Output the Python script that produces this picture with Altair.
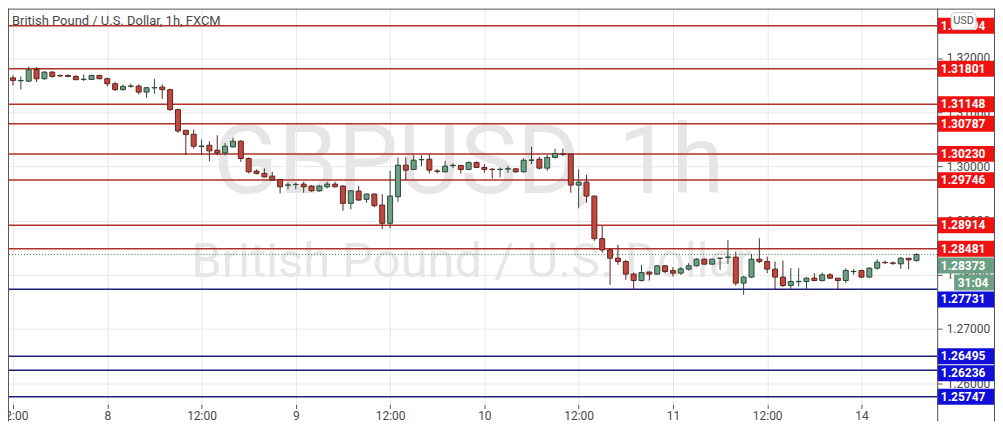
import altair as alt
import pandas as pd

# ---------------- data ----------------
opens = [1.31632, 1.31580, 1.31573, 1.31788, 1.31617, 1.31739, 1.31678, 1.31678, 1.31660, 1.31604,
         1.31604, 1.31678, 1.31617, 1.31525, 1.31415, 1.31477, 1.31481, 1.31371, 1.31448, 1.31463,
         1.31415, 1.31047, 1.30666, 1.30592, 1.30366, 1.30390, 1.30298, 1.30248, 1.30359, 1.30464,
         1.30145, 1.29912, 1.29869, 1.29820, 1.29759, 1.29650, 1.29663, 1.29672, 1.29636, 1.29549,
         1.29623, 1.29672, 1.29636, 1.29317, 1.29544, 1.29391, 1.29488, 1.29286, 1.28949, 1.29439,
         1.30022, 1.29943, 1.30121, 1.30132, 1.29915, 1.29899, 1.30013, 1.30016, 1.29943, 1.30072,
         1.29980, 1.29947, 1.29941, 1.29950, 1.29954, 1.29899, 1.30110, 1.30132, 1.29967, 1.30164,
         1.30228, 1.30224, 1.29654, 1.29709, 1.29452, 1.28666, 1.28458, 1.28305, 1.28243, 1.28011,
         1.27893, 1.28048, 1.28011, 1.28164, 1.28077, 1.28029, 1.28103, 1.28164, 1.28287, 1.28195,
         1.28302, 1.28320, 1.28324, 1.27845, 1.27956, 1.28287, 1.28243, 1.28103, 1.27956, 1.27801,
         1.27871, 1.27875, 1.27937, 1.27893, 1.27998, 1.27937, 1.27893, 1.28057, 1.28077, 1.27956,
         1.28121, 1.28228, 1.28217, 1.28200, 1.28305, 1.28261]
highs = [1.31678, 1.31660, 1.31844, 1.31831, 1.31757, 1.31757, 1.31691, 1.31696, 1.31684, 1.31696,
         1.31691, 1.31691, 1.31636, 1.31562, 1.31512, 1.31525, 1.31512, 1.31463, 1.31617, 1.31512,
         1.31433, 1.31065, 1.30666, 1.30679, 1.30495, 1.30464, 1.30574, 1.30432, 1.30532, 1.30482,
         1.30164, 1.29943, 1.29961, 1.29899, 1.29764, 1.29704, 1.29704, 1.29715, 1.29654, 1.29654,
         1.29715, 1.29715, 1.29654, 1.29562, 1.29641, 1.29501, 1.29501, 1.29488, 1.29917, 1.30164,
         1.30164, 1.30206, 1.30206, 1.30224, 1.29948, 1.30101, 1.30053, 1.30028, 1.30090, 1.30090,
         1.30040, 1.29967, 1.29980, 1.30009, 1.29967, 1.30151, 1.30359, 1.30175, 1.30212, 1.30329,
         1.30329, 1.30237, 1.29943, 1.29843, 1.29452, 1.28900, 1.28489, 1.28550, 1.28274, 1.28040,
         1.28182, 1.28059, 1.28182, 1.28182, 1.28140, 1.28140, 1.28213, 1.28305, 1.28298, 1.28298,
         1.28311, 1.28642, 1.28427, 1.27980, 1.28384, 1.28673, 1.28335, 1.28243, 1.28261, 1.28121,
         1.28121, 1.27956, 1.28029, 1.28040, 1.28029, 1.27937, 1.28121, 1.28103, 1.28090, 1.28140,
         1.28287, 1.28261, 1.28243, 1.28324, 1.28305, 1.28397]
lows = [1.31494, 1.31420, 1.31555, 1.31555, 1.31599, 1.31636, 1.31647, 1.31647, 1.31599, 1.31573,
        1.31599, 1.31610, 1.31476, 1.31389, 1.31402, 1.31452, 1.31328, 1.31268, 1.31341, 1.31249,
        1.31021, 1.30616, 1.30206, 1.30329, 1.30206, 1.30096, 1.30206, 1.30206, 1.30348, 1.30083,
        1.29869, 1.29851, 1.29796, 1.29733, 1.29501, 1.29575, 1.29575, 1.29512, 1.29531, 1.29531,
        1.29593, 1.29612, 1.29181, 1.29207, 1.29365, 1.29328, 1.29244, 1.28844, 1.28857, 1.29347,
        1.29746, 1.29930, 1.30004, 1.29869, 1.29869, 1.29888, 1.29967, 1.29869, 1.29930, 1.29967,
        1.29880, 1.29777, 1.29796, 1.29880, 1.29880, 1.29888, 1.30040, 1.29943, 1.29917, 1.30145,
        1.30188, 1.29512, 1.29225, 1.29328, 1.28624, 1.28408, 1.27814, 1.28182, 1.27906, 1.27735,
        1.27875, 1.27893, 1.27998, 1.28029, 1.27967, 1.27998, 1.28077, 1.28151, 1.28182, 1.28176,
        1.28090, 1.28200, 1.27796, 1.27630, 1.27937, 1.28213, 1.28029, 1.27735, 1.27772, 1.27740,
        1.27783, 1.27735, 1.27875, 1.27875, 1.27924, 1.27735, 1.27845, 1.27998, 1.27937, 1.27937,
        1.28090, 1.28200, 1.28182, 1.28108, 1.28103, 1.28243]
closes = [1.31586, 1.31586, 1.31783, 1.31617, 1.31739, 1.31660, 1.31669, 1.31660, 1.31599, 1.31608,
          1.31678, 1.31617, 1.31525, 1.31415, 1.31476, 1.31483, 1.31371, 1.31452, 1.31454, 1.31415,
          1.31047, 1.30653, 1.30587, 1.30372, 1.30375, 1.30285, 1.30248, 1.30372, 1.30464, 1.30145,
          1.29899, 1.29869, 1.29807, 1.29746, 1.29623, 1.29658, 1.29669, 1.29623, 1.29549, 1.29636,
          1.29672, 1.29623, 1.29317, 1.29549, 1.29378, 1.29488, 1.29273, 1.28949, 1.29452, 1.30022,
          1.29930, 1.30114, 1.30127, 1.29930, 1.29908, 1.30004, 1.30020, 1.29943, 1.30072, 1.29980,
          1.29943, 1.29941, 1.29947, 1.29956, 1.29899, 1.30114, 1.30118, 1.29967, 1.30164, 1.30237,
          1.30221, 1.29654, 1.29709, 1.29452, 1.28666, 1.28458, 1.28305, 1.28243, 1.28011, 1.27893,
          1.28040, 1.28011, 1.28164, 1.28059, 1.28029, 1.28108, 1.28164, 1.28287, 1.28195, 1.28287,
          1.28307, 1.28326, 1.27845, 1.27956, 1.28287, 1.28243, 1.28103, 1.27956, 1.27801, 1.27875,
          1.27877, 1.27937, 1.27893, 1.27998, 1.27937, 1.27893, 1.28077, 1.28062, 1.27956, 1.28121,
          1.28232, 1.28221, 1.28210, 1.28305, 1.28274, 1.28373]

resistance = [1.32594, 1.31801, 1.31148, 1.30787, 1.30230, 1.29746, 1.28914, 1.28481]
support = [1.27731, 1.26495, 1.26236, 1.25747]
last_price = 1.28373
countdown = "31:04"

tick_idx = [0, 12, 24, 36, 48, 60, 72, 84, 96, 108]
tick_lab = ["12:00", "8", "12:00", "9", "12:00", "10", "12:00", "11", "12:00", "14"]
price_ticks = [1.26, 1.27, 1.28, 1.29, 1.30, 1.31, 1.32]

title_text = "British Pound / U.S. Dollar, 1h, FXCM"
wm_big = "GBPUSD, 1h"
wm_small = "British Pound / U.S. Dollar"

# ---------------- layout / style ----------------
W, H = 932, 397
YMIN, YMAX = 1.25606, 1.32911
XMIN, XMAX = 0, 117
FONT = "Roboto"

RED_BODY, GREEN_BODY = "#c2473d", "#6c9f83"
RED_EDGE, GREEN_EDGE = "#5e2520", "#2c4a3a"
RES_LINE, SUP_LINE = "#b0302c", "#1f1f78"
RES_BOX, SUP_BOX, LAST_BOX = "#f01111", "#0f0fd8", "#6c9f83"

candles = pd.DataFrame({"idx": list(range(len(opens))), "o": opens, "h": highs, "l": lows, "c": closes})
up = [c >= o for o, c in zip(opens, closes)]
candles["body"] = [GREEN_BODY if u else RED_BODY for u in up]
candles["edge"] = [GREEN_EDGE if u else RED_EDGE for u in up]

levels = pd.DataFrame({"price": resistance + support,
                       "col": [RES_LINE] * len(resistance) + [SUP_LINE] * len(support)})

# price labels on the right axis, pushed apart like the platform does
k = (YMAX - YMIN) / H
box_col = {"res": RES_BOX, "sup": SUP_BOX, "last": LAST_BOX, "timer": LAST_BOX}
items = [(p, f"{p:.5f}", "res") for p in resistance]
items += [(last_price, f"{last_price:.5f}", "last"), (last_price, countdown, "timer")]
items += [(p, f"{p:.5f}", "sup") for p in support]
items.sort(key=lambda t: -t[0])
rows, prev = [], -1e9
for p, txt, kind in items:
    py = max((YMAX - p) / k, prev + 17)
    prev = py
    mid = YMAX - py * k
    rows.append({"mid": mid, "top": mid + 8 * k, "bot": mid - 8 * k, "txt": txt,
                 "kind": kind, "col": box_col[kind]})
labels = pd.DataFrame(rows)
main_labels = labels[labels["kind"] != "timer"]
timer_labels = labels[labels["kind"] == "timer"]

expr = " : ".join(f"datum.value == {v} ? '{t}'" for v, t in zip(tick_idx, tick_lab)) + " : ''"

xscale = alt.Scale(domain=[XMIN, XMAX], nice=False, zero=False)
yscale = alt.Scale(domain=[YMIN, YMAX], nice=False, zero=False)
xaxis = alt.Axis(values=tick_idx, labelExpr=expr, labelFlush=False, grid=True, gridColor="#e8e8e8",
                 domain=False, tickSize=4, tickColor="#555555", labelColor="#4a4a4a", labelFontSize=12,
                 labelFont=FONT, labelPadding=2, title=None, labelOverlap=False)
yaxis = alt.Axis(orient="right", values=price_ticks, format=".5f", grid=True, gridColor="#e8e8e8",
                 domain=False, tickSize=5, tickColor="#555555", labelColor="#4a4a4a", labelFontSize=12,
                 labelFont=FONT, labelPadding=4, title=None, labelOverlap=False)

one = pd.DataFrame({"a": [0]})

wm1 = alt.Chart(one).mark_text(text=wm_big, font=FONT, fontSize=96, color="#e6e6e6",
                               align="center", baseline="alphabetic").encode(
    x=alt.value(462), y=alt.value(185))
wm2 = alt.Chart(one).mark_text(text=wm_small, font=FONT, fontSize=49, color="#e6e6e6",
                               align="center", baseline="alphabetic").encode(
    x=alt.value(465), y=alt.value(269))

lvl = alt.Chart(levels).mark_rule(strokeWidth=1.5).encode(
    y=alt.Y("price:Q", scale=yscale, axis=yaxis),
    stroke=alt.Stroke("col:N", scale=None))

lastline = alt.Chart(pd.DataFrame({"price": [last_price]})).mark_rule(
    strokeDash=[1, 2], strokeWidth=1, color="#3f7a60").encode(
    y=alt.Y("price:Q", scale=yscale, axis=yaxis))

wicks = alt.Chart(candles).mark_rule(strokeWidth=1).encode(
    x=alt.X("idx:Q", scale=xscale, axis=xaxis),
    y=alt.Y("l:Q", scale=yscale, axis=yaxis), y2="h:Q",
    stroke=alt.Stroke("edge:N", scale=None))

bodies = alt.Chart(candles).mark_bar(size=5, strokeWidth=1).encode(
    x=alt.X("idx:Q", scale=xscale, axis=xaxis),
    y=alt.Y("o:Q", scale=yscale, axis=yaxis), y2="c:Q",
    fill=alt.Fill("body:N", scale=None),
    stroke=alt.Stroke("edge:N", scale=None))

boxes = alt.Chart(main_labels).mark_rect().encode(
    x=alt.value(932), x2=alt.value(990),
    y=alt.Y("top:Q", scale=yscale, axis=yaxis), y2="bot:Q",
    fill=alt.Fill("col:N", scale=None))
tboxes = alt.Chart(timer_labels).mark_rect().encode(
    x=alt.value(949), x2=alt.value(990),
    y=alt.Y("top:Q", scale=yscale, axis=yaxis), y2="bot:Q",
    fill=alt.Fill("col:N", scale=None))
btext = alt.Chart(main_labels).mark_text(font=FONT, fontSize=12, fontWeight="bold", color="white",
                                         align="center", baseline="middle").encode(
    x=alt.value(958), y=alt.Y("mid:Q", scale=yscale, axis=yaxis), text="txt:N")
ttext = alt.Chart(timer_labels).mark_text(font=FONT, fontSize=12, fontWeight="bold", color="white",
                                          align="center", baseline="middle").encode(
    x=alt.value(968), y=alt.Y("mid:Q", scale=yscale, axis=yaxis), text="txt:N")

usd_box = alt.Chart(one).mark_rect(fill="white", stroke="#c8c8c8", strokeWidth=1, cornerRadius=4).encode(
    x=alt.value(946), x2=alt.value(971), y=alt.value(4), y2=alt.value(21))
usd_text = alt.Chart(one).mark_text(text="USD", font=FONT, fontSize=11, color="#555555",
                                    align="center", baseline="middle").encode(
    x=alt.value(958.5), y=alt.value(12.5))

title = alt.Chart(one).mark_text(text=title_text, font=FONT, fontSize=13, color="#4a4a4a",
                                 align="left", baseline="middle").encode(
    x=alt.value(4), y=alt.value(12))

frame_right = alt.Chart(one).mark_rule(color="#555555", strokeWidth=1).encode(
    x=alt.value(932.5), y=alt.value(0), y2=alt.value(H + 17))
frame_left = alt.Chart(one).mark_rule(color="#555555", strokeWidth=1).encode(
    x=alt.value(0.5), y=alt.value(0), y2=alt.value(H + 17))
frame_top = alt.Chart(one).mark_rule(color="#555555", strokeWidth=1).encode(
    x=alt.value(0), x2=alt.value(990), y=alt.value(0.5))
frame_outer = alt.Chart(one).mark_rule(color="#555555", strokeWidth=1).encode(
    x=alt.value(989.5), y=alt.value(0), y2=alt.value(H + 17))

chart = alt.layer(
    wm1, wm2, lvl, lastline, wicks, bodies, boxes, tboxes, btext, ttext,
    usd_box, usd_text, title, frame_right, frame_left, frame_top, frame_outer
).properties(
    width=W, height=H,
    autosize=alt.AutoSizeParams(type="none"),
    padding={"left": 0, "top": 0, "right": 58, "bottom": 17},
    background="white",
).configure_view(stroke=None)

chart.save("out.html", embed_options={"renderer": "svg", "actions": False})
